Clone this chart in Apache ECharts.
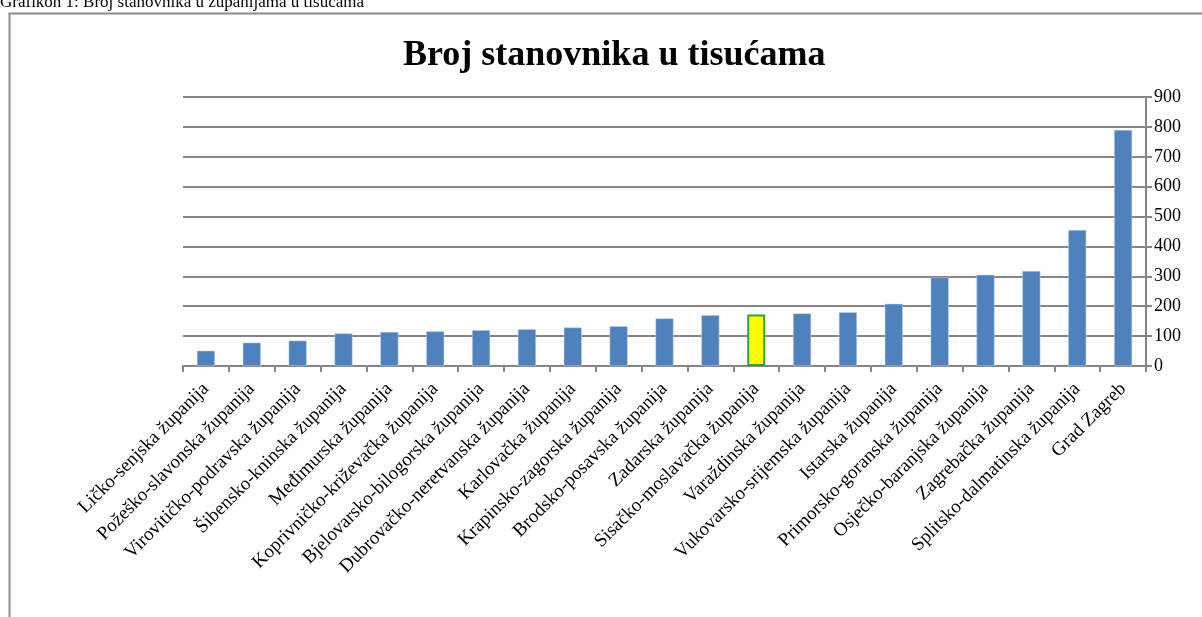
<!DOCTYPE html>
<html>
<head>
<meta charset="utf-8">
<script src="https://cdn.jsdelivr.net/npm/echarts@6/dist/echarts.min.js"></script>
<style>
  html, body { margin: 0; padding: 0; background: #fff; }
  #chart { width: 1202px; height: 617px; }
</style>
</head>
<body>
<div id="chart"></div>
<script>
// podaci - broj stanovnika u tisućama
var zupanije = [
  'Ličko-senjska županija', 'Požeško-slavonska županija', 'Virovitičko-podravska županija',
  'Šibensko-kninska županija', 'Međimurska županija', 'Koprivničko-križevačka županija',
  'Bjelovarsko-bilogorska županija', 'Dubrovačko-neretvanska županija', 'Karlovačka županija',
  'Krapinsko-zagorska županija', 'Brodsko-posavska županija', 'Zadarska županija',
  'Sisačko-moslavačka županija', 'Varaždinska županija', 'Vukovarsko-srijemska županija',
  'Istarska županija', 'Primorsko-goranska županija', 'Osječko-baranjska županija',
  'Zagrebačka županija', 'Splitsko-dalmatinska županija', 'Grad Zagreb'
];
var stanovnici = [51, 78, 85, 109, 114, 116, 120, 123, 129, 133, 159, 170, 172, 176, 180, 208, 296, 305, 318, 455, 790];
var istaknuta = 'Sisačko-moslavačka županija';
var yTicks = [0, 100, 200, 300, 400, 500, 600, 700, 800, 900];

var font = '"Liberation Serif", "DejaVu Serif", serif';

var chart = echarts.init(document.getElementById('chart'));

var podaci = stanovnici.map(function (v, i) {
  if (zupanije[i] === istaknuta) {
    return { value: v, itemStyle: { color: '#FFFF00', borderColor: '#2EA33A', borderWidth: 2 } };
  }
  return v;
});

var option = {
  animation: false,
  backgroundColor: '#fff',
  title: {
    text: 'Broj stanovnika u tisućama',
    left: 398,
    top: 33,
    textStyle: { fontFamily: font, fontSize: 36, fontWeight: 'bold', color: '#000' }
  },
  graphic: [
    {
      type: 'rect',
      shape: { x: 9.5, y: 13.5, width: 1300, height: 700 },
      style: { fill: 'none', stroke: '#8c8c8c', lineWidth: 2 },
      z: -1
    },
    {
      type: 'text',
      left: 0,
      top: -6,
      style: { text: 'Grafikon 1: Broj stanovnika u županijama u tisućama', font: '17px ' + font, fill: '#000' }
    }
  ],
  grid: { left: 183, right: 56, top: 97, bottom: 251 },
  xAxis: {
    type: 'category',
    data: zupanije,
    axisLine: { lineStyle: { color: '#868686', width: 2 } },
    axisTick: { show: true, alignWithLabel: false, length: 6, lineStyle: { color: '#868686', width: 2 } },
    axisLabel: { rotate: 45, interval: 0, fontFamily: font, fontSize: 19, color: '#000', margin: 20 }
  },
  yAxis: {
    type: 'value',
    position: 'right',
    min: 0,
    max: 900,
    interval: 100,
    axisLine: { show: true, lineStyle: { color: '#868686', width: 2 } },
    axisTick: { show: true, length: 6, lineStyle: { color: '#868686', width: 2 } },
    splitLine: { lineStyle: { color: '#868686', width: 2 } },
    axisLabel: {
      fontFamily: font, fontSize: 18, color: '#000', margin: 8,
      formatter: function (v) { return yTicks.indexOf(v) >= 0 ? String(v) : ''; }
    }
  },
  series: [{
    type: 'bar',
    data: podaci,
    barWidth: 18,
    itemStyle: { color: '#4F81BD', borderColor: '#C6D5E9', borderWidth: 0.5 }
  }]
};

chart.setOption(option);
</script>
</body>
</html>
